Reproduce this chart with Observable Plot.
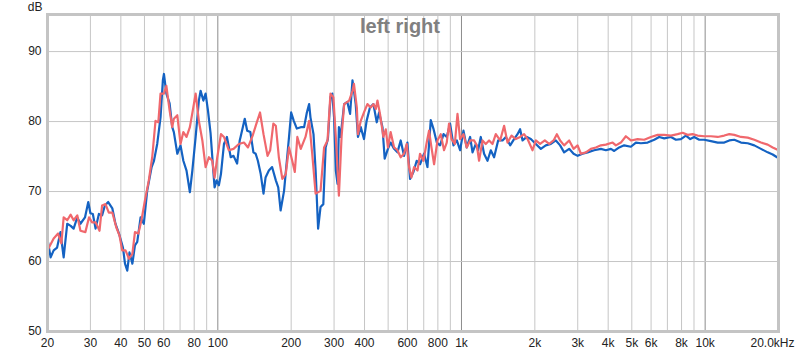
<!DOCTYPE html>
<html>
<head>
<meta charset="utf-8">
<script src="https://cdn.jsdelivr.net/npm/d3@7"></script>
<script src="https://cdn.jsdelivr.net/npm/@observablehq/plot@0.6"></script>
<style>
  html, body { margin: 0; padding: 0; background: #fff; }
  #chart svg { display: block; }
</style>
</head>
<body>
<div id="chart"></div>
<script>
// ---- Data ----
const title = "left right";
const yUnit = "dB";

const leftHz = [20,20.6,21.2,21.9,22.6,23.3,24.1,24.9,25.6,26.5,27.3,28.5,29.4,30.0,30.7,31.5,32.5,33.5,34.4,35.5,36.9,38.0,39.3,40.8,41.6,42.5,43.4,44.6,45.7,46.7,48.2,49.7,51.3,53.5,54.7,56.4,58.2,59.5,60.1,61.5,63.4,65.0,66.0,68.2,70.3,72.2,74.4,76.8,78.6,81.1,83.6,85.0,87.2,89.1,91.1,93.4,95.8,97.0,98.9,101,103,106,109,113,116,120,123,124,129,132,136,140,143,146,150,154,157,162,167,173,177,181,187,192,196,200,205,211,219,226,232,237,240,247,252,258,264,271,277,283,290,295,300,305,310,314,319,330,340,349,357,362,368,376,386,398,408,421,435,449,459,474,484,499,512,529,546,563,581,600,615,635,655,676,702,725,748,767,792,817,844,870,898,927,957,987,1019,1051,1085,1110,1145,1170,1200,1238,1279,1319,1361,1414,1474,1521,1584,1644,1698,1740,1781,1854,1926,2019,2117,2218,2327,2440,2540,2638,2766,2884,2996,3140,3292,3504,3733,3914,4104,4234,4438,4652,4958,5198,5449,5806,6181,6478,6792,7237,7587,7953,8339,8686,9019,9454,9912,10560,11260,11980,12560,13170,14030,14950,15910,16950,18060,18930,19720,20000];
const leftDb = [63.2,60.6,61.6,62.0,64.2,60.6,65.4,65.1,64.7,66.3,65.4,66.3,68.5,66.9,66.8,64.7,66.8,66.6,68.0,68.5,67.6,65.4,64.0,62.0,59.7,58.7,61.3,59.7,62.3,62.8,66.3,65.4,70.1,73.5,74.4,76.8,80.6,85.9,86.8,84.0,82.6,79.2,78.5,75.4,76.6,74.4,73.0,69.9,73.0,77.8,83.0,84.4,83.0,84.0,81.6,78.3,73.0,70.6,71.6,70.9,72.5,76.8,77.8,74.9,75.1,74.0,77.3,77.8,80.4,78.7,78.5,75.6,75.4,74.4,72.5,69.7,72.0,73.0,73.5,71.6,70.6,67.3,70.1,74.4,77.8,81.3,80.1,79.0,79.2,79.2,81.3,82.5,80.6,78.2,73.0,64.7,67.8,68.2,76.3,77.5,83.5,84.0,80.6,73.0,71.1,79.2,77.8,82.5,82.8,81.1,85.9,84.4,82.5,77.8,79.2,77.5,80.1,82.0,82.5,79.9,81.3,79.2,74.7,76.1,77.0,76.1,75.6,77.3,75.1,77.0,71.8,72.8,74.4,73.9,75.4,73.5,80.2,79.0,77.0,76.6,78.2,77.8,79.7,76.6,77.3,75.9,78.7,76.3,77.8,75.6,76.8,75.9,77.8,75.4,74.4,75.9,74.9,77.3,77.3,77.8,76.6,77.5,78.2,78.9,77.3,77.8,77.5,76.8,76.1,76.6,76.8,77.3,76.6,75.6,76.1,75.4,75.1,75.4,75.6,75.9,76.1,75.9,76.1,75.8,76.3,76.6,76.4,77.0,76.9,77.0,77.4,77.8,77.6,77.8,77.4,77.5,78.0,77.5,77.8,77.4,77.4,77.2,77.0,77.0,77.3,77.4,77.0,76.9,76.6,76.1,75.6,75.3,74.9,74.8];

const rightHz = [20,21.2,22.1,22.8,23.3,24.1,24.9,25.6,26.5,27.3,28.6,29.6,30.5,31.5,32.7,33.5,34.6,35.7,36.9,38.3,39.5,40.5,41.8,43.2,44.6,45.7,47.2,48.6,50.2,52.1,53.8,55.5,57.0,58.2,60.1,61.5,63.4,65.0,66.0,68.2,70.3,72.2,74.4,76.8,79.3,81.1,83.6,86.4,89.1,91.9,94.9,97.0,99.5,103,106,111,116,122,128,133,139,144,149,154,160,164,169,173,178,184,190,196,202,207,212,219,229,237,244,252,264,273,282,290,298,305,314,322,330,346,357,362,372,376,386,398,411,424,435,445,452,463,478,489,499,512,529,546,563,581,596,609,623,639,660,676,698,720,736,753,772,797,822,848,870,889,910,939,963,987,1019,1051,1085,1127,1156,1181,1220,1258,1298,1341,1383,1441,1496,1545,1605,1671,1740,1807,1867,1957,2019,2102,2198,2290,2388,2463,2540,2638,2766,2884,2996,3090,3240,3396,3560,3733,3914,4171,4303,4510,4728,4958,5282,5622,5990,6381,6792,7237,7709,8083,8475,8884,9313,9912,10560,11260,11980,12560,13170,14030,14950,15910,16950,18060,18930,19720,20000];
const rightDb = [61.6,63.3,64.0,62.6,66.3,65.9,66.7,65.9,66.6,64.4,64.2,66.3,65.6,65.6,64.4,68.0,68.2,67.0,67.0,64.9,63.7,61.6,61.6,60.4,61.1,64.2,64.0,65.9,68.7,71.6,74.9,80.1,79.9,84.0,84.0,85.1,81.6,79.2,80.4,80.9,76.8,78.5,77.8,79.2,82.0,84.0,80.1,77.3,73.5,74.9,74.4,72.0,74.9,78.2,77.8,75.9,76.1,76.8,77.0,76.3,78.0,79.7,81.3,78.2,75.1,75.9,79.7,79.4,74.9,71.8,72.5,76.3,74.4,72.8,77.8,76.1,77.8,80.1,75.4,69.7,70.1,76.3,77.3,84.0,83.5,77.8,69.4,77.8,82.5,83.0,84.4,85.4,82.0,78.2,80.1,81.3,82.5,82.0,82.5,81.8,83.0,81.1,77.8,78.9,76.3,78.5,76.3,75.9,74.9,75.4,76.8,73.5,72.0,73.5,73.0,75.4,74.4,77.0,78.7,76.3,73.9,77.3,78.2,75.9,77.0,79.7,77.5,76.8,81.1,77.5,78.2,76.3,77.3,77.3,76.6,74.4,77.3,76.8,77.3,76.8,78.2,77.3,79.4,77.0,78.0,77.5,77.8,78.2,77.5,75.9,77.3,76.8,77.3,76.8,77.3,78.2,77.3,76.6,77.3,76.1,76.6,75.4,75.6,76.1,76.3,76.6,76.7,77.0,76.6,77.0,77.9,77.3,77.5,77.4,77.8,78.1,78.1,78.0,78.2,78.4,78.1,78.2,78.0,77.9,77.9,77.8,78.0,78.2,78.1,77.8,77.7,77.4,77.0,76.7,76.3,76.0,75.9];

const yTicks = [50, 60, 70, 80, 90];
const xGridMinor = [20,30,40,50,60,70,80,90,200,300,400,500,600,700,800,900,2000,3000,4000,5000,6000,7000,8000,9000,20000];
const xGridMajor = [100, 1000, 10000];
const xTickValues = [20,30,40,50,60,80,100,200,300,400,600,800,1000,2000,3000,4000,5000,6000,8000,10000];
const xTickLabels = ["20","30","40","50","60","80","100","200","300","400","600","800","1k","2k","3k","4k","5k","6k","8k","10k"];
const xEndValue = 20000;
const xEndLabel = "20.0kHz";

const seriesColors = { left: "#1462c2", right: "#f0686d" };

// ---- Build tables ----
const leftData = leftHz.map((f, i) => ({ f, db: leftDb[i] }));
const rightData = rightHz.map((f, i) => ({ f, db: rightDb[i] }));
const xLabels = xTickValues.map((v, i) => ({ v, label: xTickLabels[i] }));

const chart = Plot.plot({
  width: 800,
  height: 353,
  marginLeft: 47,
  marginRight: 22,
  marginTop: 14,
  marginBottom: 22,
  style: { fontFamily: "'Liberation Sans', Arial, sans-serif", fontSize: "12px", background: "#fff", color: "#222" },
  x: { type: "log", domain: [20, 20000], axis: null },
  y: { domain: [50, 95.3], axis: null },
  marks: [
    Plot.ruleX(xGridMinor, { stroke: "#c6c6c6", strokeWidth: 1 }),
    Plot.ruleX(xGridMajor, { stroke: "#8c8c8c", strokeWidth: 1 }),
    Plot.ruleY(yTicks.filter(d => d > 50), { stroke: "#c6c6c6", strokeWidth: 1 }),
    Plot.text([title], { frameAnchor: "top", dx: -13, dy: 12, lineAnchor: "middle", fontSize: 20, fontWeight: "bold", fill: "#808080" }),
    Plot.line(leftData, { x: "f", y: "db", stroke: seriesColors.left, strokeWidth: 2.2, strokeLinejoin: "round" }),
    Plot.line(rightData, { x: "f", y: "db", stroke: seriesColors.right, strokeWidth: 2.2, strokeLinejoin: "round" }),
    Plot.frame({ stroke: "#c4c4c4", strokeWidth: 3 }),
    Plot.text(yTicks, { y: d => d, text: d => String(d), frameAnchor: "left", dx: -6, textAnchor: "end", lineAnchor: "middle", fontSize: 12, fill: "#222" }),
    Plot.text(xLabels, { x: "v", text: "label", frameAnchor: "bottom", dy: 12, lineAnchor: "middle", fontSize: 12, fill: "#222" }),
    Plot.text([xEndLabel], { x: () => xEndValue, frameAnchor: "bottom", dx: -6, dy: 12, lineAnchor: "middle", fontSize: 12, fill: "#222" }),
    Plot.text([yUnit], { frameAnchor: "top-left", dx: -5, dy: -7, textAnchor: "end", lineAnchor: "middle", fontSize: 12, fill: "#222" })
  ]
});
document.getElementById("chart").appendChild(chart);
</script>
</body>
</html>
